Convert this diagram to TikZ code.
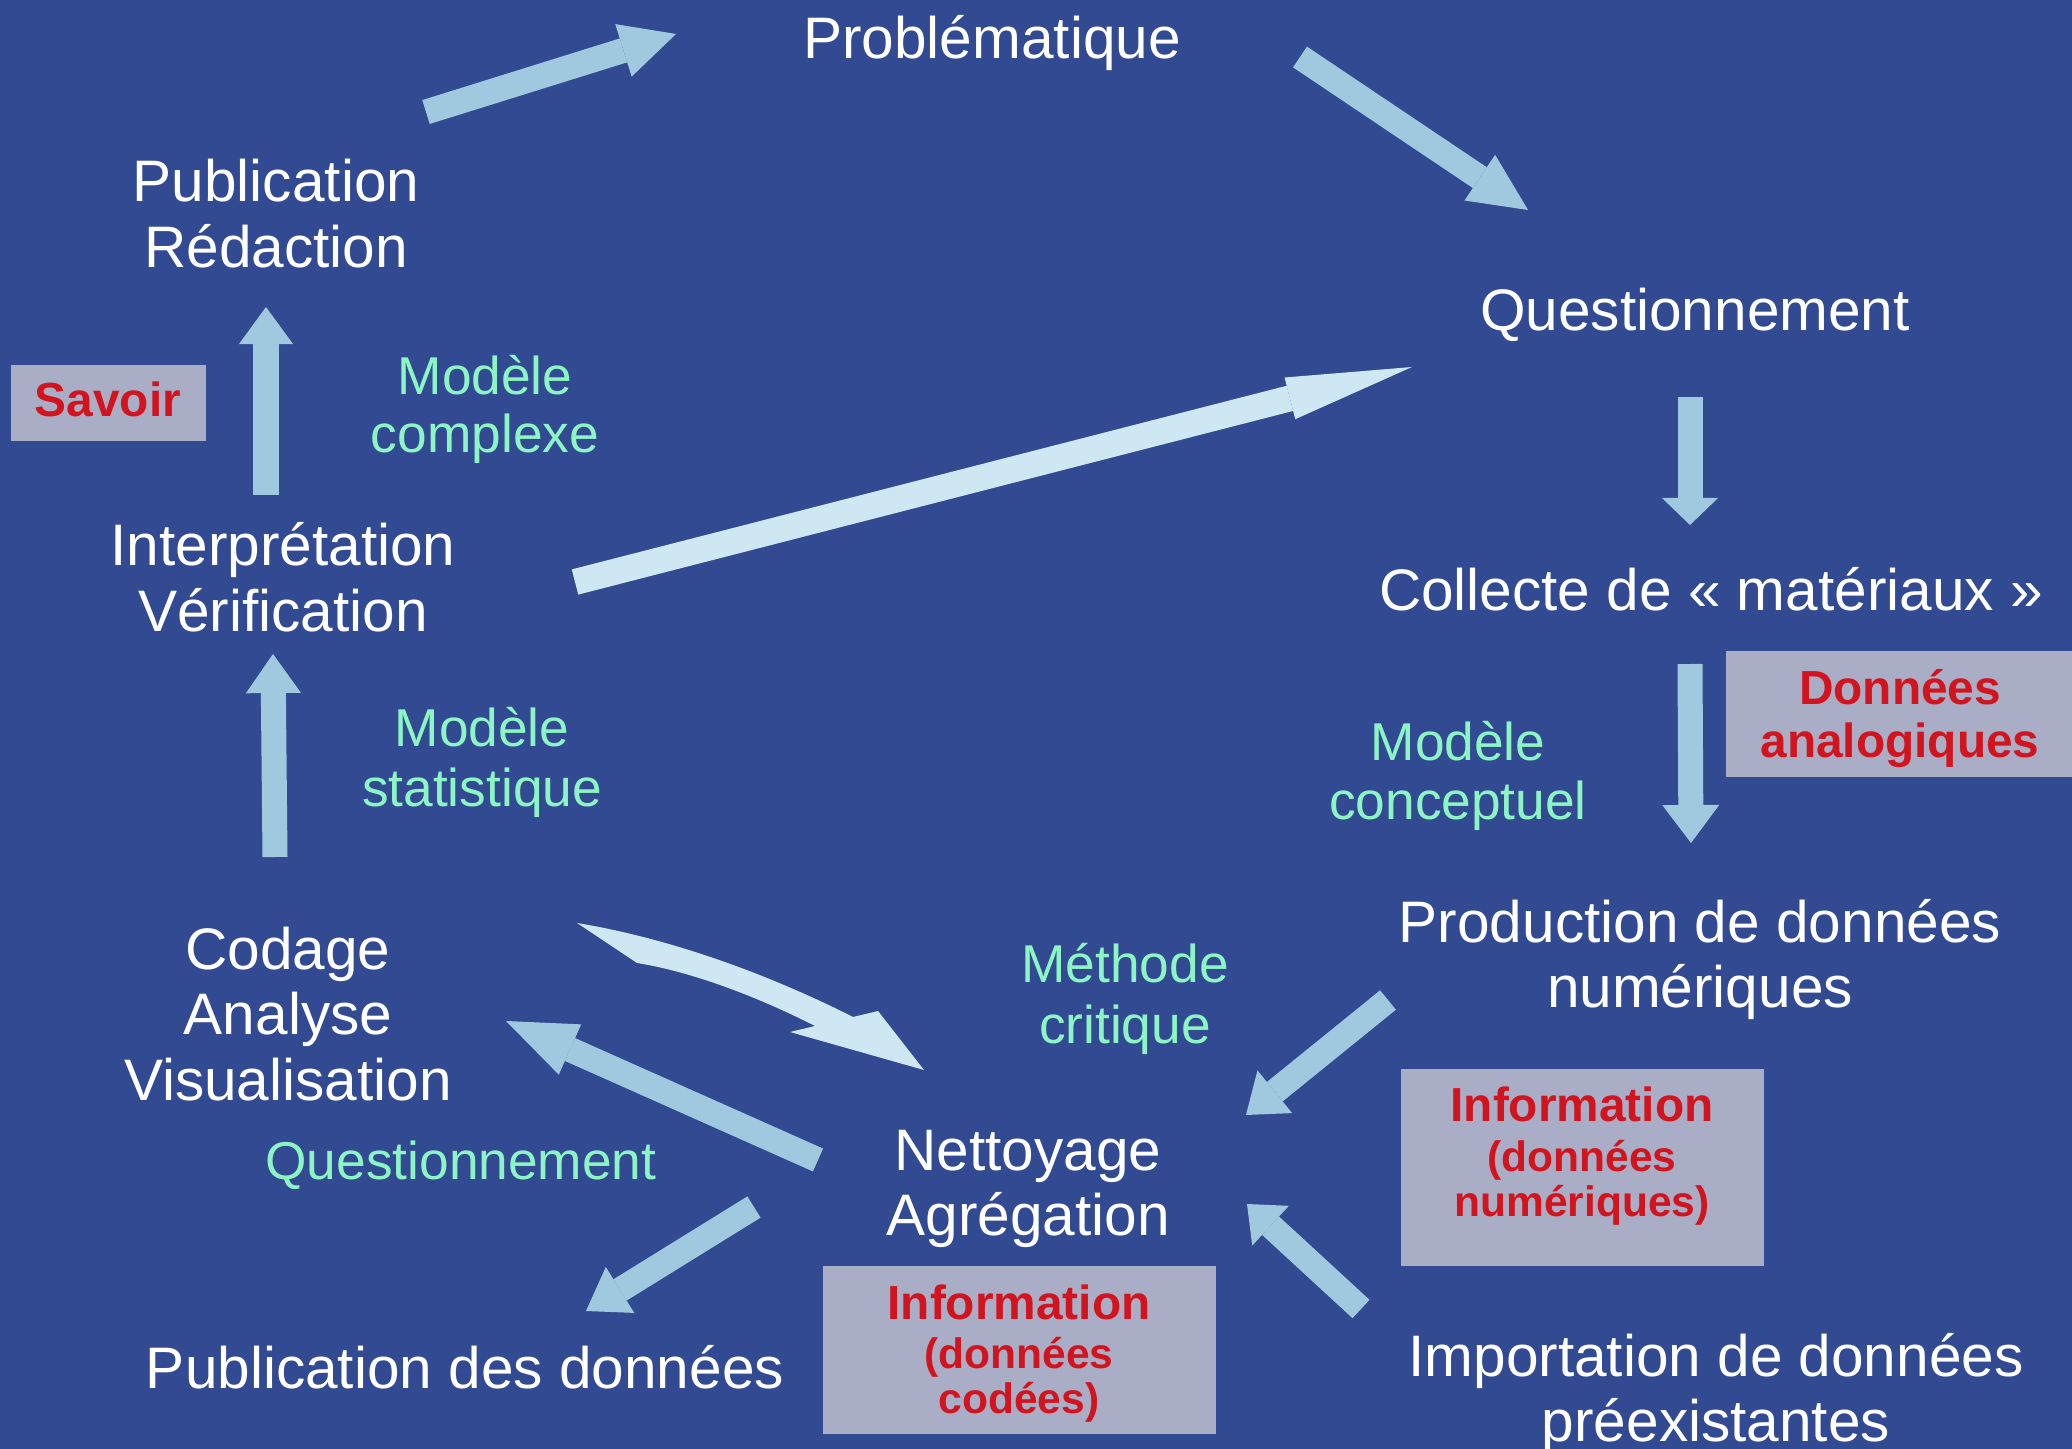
\documentclass[tikz,border=0pt]{standalone}
\usepackage{fontspec}
\setmainfont{Liberation Sans}
\usetikzlibrary{arrows.meta}
\definecolor{bgblue}{HTML}{324A92}
\definecolor{arrowblue}{HTML}{A0C8DE}
\definecolor{arrowlight}{HTML}{CFE6F3}
\definecolor{boxgray}{HTML}{A9AEC6}
\definecolor{tagred}{HTML}{D2141E}
\definecolor{mintgreen}{HTML}{8CF5C3}
\begin{document}
\begin{tikzpicture}[x=0.01cm,y=-0.01cm,
  stage/.style={text=white, font=\fontsize{16.65}{19}\selectfont, anchor=base, inner sep=0pt},
  model/.style={text=mintgreen, font=\fontsize{15.15}{17}\selectfont, anchor=base, inner sep=0pt},
  tagbig/.style={text=tagred, font=\bfseries\fontsize{13.6}{16}\selectfont, anchor=base, inner sep=0pt},
  tagsmall/.style={text=tagred, font=\bfseries\fontsize{12.1}{14}\selectfont, anchor=base, inner sep=0pt},
  tagbox/.style={fill=boxgray, draw=none, inner sep=0pt},
  flow/.style 2 args={draw=arrowblue, line width=0.25cm,
    -{Triangle[width=#1,length=#2,line width=0pt]}},
  flowlight/.style 2 args={draw=arrowlight, line width=0.26cm,
    -{Triangle[width=#1,length=#2,line width=0pt]}},
]
% background
\fill[bgblue] (0,0) rectangle (2072,1449);
\useasboundingbox (0,0) rectangle (2072,1449);

% grey tag boxes
\node[tagbox, minimum width=1.95cm, minimum height=0.76cm] (savbox) at (108.5,403) {};
\node[tagbox, minimum width=3.46cm, minimum height=1.26cm] (donbox) at (1899,714) {};
\node[tagbox, minimum width=3.63cm, minimum height=1.97cm] (infbox) at (1582.5,1167.5) {};
\node[tagbox, minimum width=3.93cm, minimum height=1.68cm] (infcbox) at (1019.5,1350) {};

% arrow end points
\coordinate (a1s) at (426,112);   \coordinate (a1e) at (676,34);
\coordinate (a2s) at (1300,57);   \coordinate (a2e) at (1528,210);
\coordinate (a3s) at (1690,397);  \coordinate (a3e) at (1690,525);
\coordinate (a4s) at (575,582);   \coordinate (a4e) at (1412,367);
\coordinate (a5s) at (266,495);   \coordinate (a5e) at (266,307);
\coordinate (a6s) at (275,857);   \coordinate (a6e) at (273,654);
\coordinate (a7s) at (1690,664);  \coordinate (a7e) at (1691,843);
\coordinate (a8s) at (1388,1000); \coordinate (a8e) at (1246,1115);
\coordinate (a9s) at (1361,1309); \coordinate (a9e) at (1247,1204);
\coordinate (a10s) at (818,1160); \coordinate (a10e) at (506,1021);
\coordinate (a11s) at (754,1207); \coordinate (a11e) at (586,1311);

% straight block arrows
\draw[flow={0.55cm}{0.55cm}] (a1s) -- (a1e);
\draw[flow={0.55cm}{0.58cm}] (a2s) -- (a2e);
\draw[flow={0.56cm}{0.27cm}] (a3s) -- (a3e);
\draw[flowlight={0.43cm}{1.26cm}] (a4s) -- (a4e);
\draw[flow={0.54cm}{0.37cm}] (a5s) -- (a5e);
\draw[flow={0.55cm}{0.39cm}] (a6s) -- (a6e);
\draw[flow={0.57cm}{0.38cm}] (a7s) -- (a7e);
\draw[flow={0.55cm}{0.37cm}] (a8s) -- (a8e);
\draw[flow={0.54cm}{0.32cm}] (a9s) -- (a9e);
\draw[flow={0.55cm}{0.70cm}] (a10s) -- (a10e);
\draw[flow={0.54cm}{0.40cm}] (a11s) -- (a11e);

% curved arrow from coding towards cleaning
\fill[arrowlight] (577,923) .. controls (680,940) and (780,980) .. (853,1017)
  -- (878,1011) -- (924,1070) -- (790,1032) -- (815,1026)
  .. controls (770,1003) and (700,973) .. (637,963) -- cycle;

% stages
\node[stage] (prob) at (992,59) {Problématique};
\node[stage] (pub1) at (276,202) {Publication};
\node[stage] (pub2) at (276,268) {Rédaction};
\node[stage] (quest) at (1695,331) {Questionnement};
\node[stage] (coll) at (1711,611) {Collecte de « matériaux »};
\node[stage] (int1) at (283,566) {Interprétation};
\node[stage] (int2) at (283,632) {Vérification};
\node[stage] (prod1) at (1700,942) {Production de données};
\node[stage] (prod2) at (1700,1007) {numériques};
\node[stage] (cod1) at (288,969) {Codage};
\node[stage] (cod2) at (288,1034) {Analyse};
\node[stage] (cod3) at (288,1100) {Visualisation};
\node[stage] (net1) at (1028,1170) {Nettoyage};
\node[stage] (net2) at (1028,1235) {Agrégation};
\node[stage] (pubd) at (465,1388) {Publication des données};
\node[stage] (imp1) at (1716,1376) {Importation de données};
\node[stage] (imp2) at (1716,1441) {préexistantes};

% models and methods
\node[model] (mc1) at (485,395) {Modèle};
\node[model] (mc2) at (485,453) {complexe};
\node[model] (ms1) at (482,746) {Modèle};
\node[model] (ms2) at (482,806) {statistique};
\node[model] (mk1) at (1458,761) {Modèle};
\node[model] (mk2) at (1458,819) {conceptuel};
\node[model] (mt1) at (1125,982) {Méthode};
\node[model] (mt2) at (1125,1043) {critique};
\node[model] (qg) at (461,1179) {Questionnement};

% tags
\node[tagbig] (sav) at (108,417) {Savoir};
\node[tagbig] (don1) at (1900,705) {Données};
\node[tagbig] (don2) at (1900,757) {analogiques};
\node[tagbig] (inf1) at (1582,1121) {Information};
\node[tagsmall] (inf2) at (1582,1171) {(données};
\node[tagsmall] (inf3) at (1582,1216) {numériques)};
\node[tagbig] (infc1) at (1019,1319) {Information};
\node[tagsmall] (infc2) at (1019,1368) {(données};
\node[tagsmall] (infc3) at (1019,1413) {codées)};
\end{tikzpicture}
\end{document}
